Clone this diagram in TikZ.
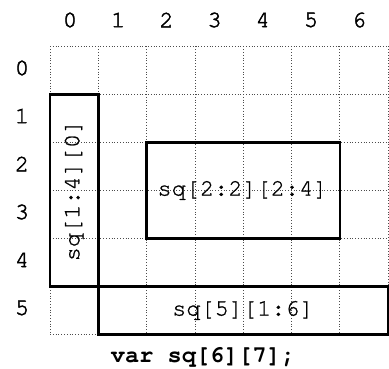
\documentclass[tikz,border=0pt]{standalone}
\usepackage{fontspec}
\newfontfamily\cellfont[FakeBold=1.0]{TeX Gyre Cursor}
\newfontfamily\labfont[FakeBold=2.0]{TeX Gyre Cursor}
\newfontfamily\capfont{TeX Gyre Cursor}
\begin{document}
\begin{tikzpicture}[x=1pt,y=-1pt,
  gridline/.style={draw=black!70,line width=0.8pt,dotted},
  slicebox/.style={draw=black,line width=2.4pt},
  celltext/.style={font=\cellfont\fontsize{23.6}{26}\selectfont,inner sep=0pt},
  idxlabel/.style={font=\labfont\fontsize{23.6}{26}\selectfont,inner sep=0pt},
  captext/.style={font=\capfont\bfseries\fontsize{23.6}{26}\selectfont,inner sep=0pt}]
\useasboundingbox (0,0) rectangle (389,369);
% grid
\foreach \i in {0,...,7}{
  \draw[gridline] ({50+48.3*\i},46.5) -- ({50+48.3*\i},334.5);
}
\foreach \j in {0,...,6}{
  \draw[gridline] (50,{46.5+48*\j}) -- (388.1,{46.5+48*\j});
}
% column and row indices
\foreach \i in {0,...,6}{
  \node[idxlabel] (c\i) at ({70+48.2*\i},20) {\i};
}
\foreach \j in {0,...,5}{
  \node[idxlabel] (r\j) at (22,{68+48*\j}) {\j};
}
% slices
\draw[slicebox] (50,94.5) rectangle (98.3,286.5);
\node[celltext,rotate=90] (a) at (74.2,190.5) {sq[1:4][0]};
\draw[slicebox] (146.6,142.5) rectangle (339.8,238.5);
\node[celltext] (b) at (242.5,190.5) {sq[2:2][2:4]};
\draw[slicebox] (98.3,286.5) rectangle (388.1,334.5);
\node[celltext] (c) at (243,310.5) {sq[5][1:6]};
% caption
\node[captext] (cap) at (203,357) {var sq[6][7];};
\end{tikzpicture}
\end{document}
